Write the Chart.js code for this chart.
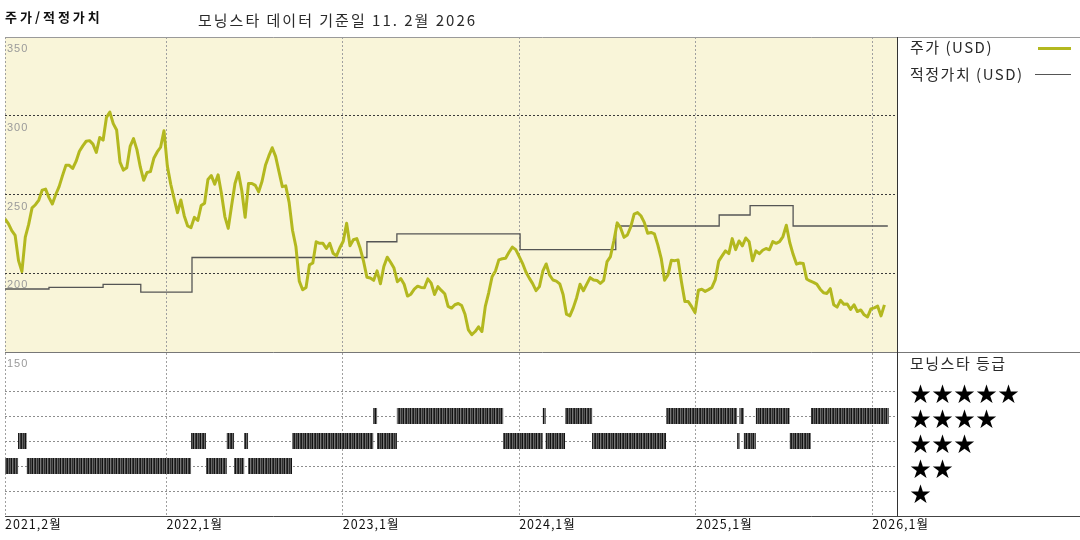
<!DOCTYPE html>
<html><head><meta charset="utf-8">
<script src="https://cdn.jsdelivr.net/npm/chart.js@4.4.1/dist/chart.umd.min.js"></script>
<style>
html,body{margin:0;padding:0;background:#fff;}
#wrap{position:relative;width:1080px;height:540px;overflow:hidden;font-family:"Noto Sans CJK KR","Noto Sans",sans-serif;}
#c{position:absolute;left:0;top:0;}
.t{position:absolute;white-space:nowrap;color:#2a2a2a;line-height:1;}
.sw{position:absolute;}
</style></head><body>
<div id="wrap">
<canvas id="c" width="1080" height="540"></canvas>
<div class="t" style="left:5px;top:10px;font-size:13px;font-weight:bold;letter-spacing:3px;color:#111;">주가/적정가치</div>
<div class="t" style="left:198px;top:12px;font-size:15px;letter-spacing:2px;">모닝스타 데이터 기준일 11. 2월 2026</div>
<div class="t" style="left:910px;top:39px;font-size:15px;letter-spacing:1.5px;">주가 (USD)</div>
<div class="sw" style="left:1038px;top:47px;width:33px;height:3px;background:#b3b81f;"></div>
<div class="t" style="left:910px;top:66px;font-size:15px;letter-spacing:1.5px;">적정가치 (USD)</div>
<div class="sw" style="left:1035px;top:74px;width:36px;height:1px;background:#555;"></div>
<div class="t" style="left:910px;top:355px;font-size:15px;letter-spacing:1.5px;">모닝스타 등급</div>
<div class="t" style="left:910px;top:382px;font-size:21px;letter-spacing:1px;color:#000;">★★★★★</div>
<div class="t" style="left:910px;top:407px;font-size:21px;letter-spacing:1px;color:#000;">★★★★</div>
<div class="t" style="left:910px;top:432px;font-size:21px;letter-spacing:1px;color:#000;">★★★</div>
<div class="t" style="left:910px;top:457px;font-size:21px;letter-spacing:1px;color:#000;">★★</div>
<div class="t" style="left:910px;top:482px;font-size:21px;letter-spacing:1px;color:#000;">★</div>
</div>
<script>
// ---- data ----
const startDate = '2021-02-01';
const axisEndDay = 1846;
const tickDates = ['2021-02-01','2022-01-01','2023-01-01','2024-01-01','2025-01-01','2026-01-01'];
const tickLabels = ['2021,2월','2022,1월','2023,1월','2024,1월','2025,1월','2026,1월'];
const priceTicks = [150,200,250,300,350];
const ratingLevels = [1,2,3,4,5];

// weekly closing price (USD) starting at startDate
const priceWeekly = [
234.5,231.5,227,224,208,201,223,231,241.5,243.5,
246.5,252.8,253.4,248,244,250,255,262,268.5,268.5,
266.5,271,277.5,280.9,283.8,284.2,282,276.7,286.2,284.5,
299,302.3,295,291,270.5,265.5,267,280.5,285.5,278.5,
267.5,259,264,264.5,273,277,280,290.5,268,256.5,
247.3,238.5,246.5,236.4,230,229,235.5,233.5,243,244.5,
259.5,262,256.5,262.5,250.5,236,228.5,243,257,264,
252.5,235.5,257,257,255.8,251.7,258.4,268.5,274.5,279.7,
274.2,264.5,255,255.5,245,227.3,217,195,189.5,191,
205.3,206.5,220,219,219,215.7,219,212.7,211,216.2,
220.3,231.7,217.5,221.3,222,215.8,207.7,197.5,197,195.5,
201.5,193.3,204.3,210.2,207,203.3,194.6,196.6,193,185.5,
186.7,189.9,191.8,191,190.8,196.4,193.7,186.5,191.5,189.1,
187,179,177.9,180,180.8,179.5,174,164,161,163,
166,163,179,187.6,197.8,201.4,208.5,209.2,209.5,213.3,
216.6,215,210.7,206.3,200.8,196.9,193.4,189,191.5,201.3,
205.9,198.9,195.7,195,193.3,186.5,174,172.9,178,184.5,
193,188.9,193.1,197.2,195.7,195.4,193.5,195.5,207.4,210.6,
220.5,232,228.8,222.8,224.3,229.4,237.5,238.5,236.5,232.3,
225.4,225.9,225,218,209.5,195.6,199,208.2,208,208.4,
194.5,182,182,178.8,175,189.2,189.8,188.5,189.6,191,
196,207.7,211,214.2,212.5,222,215,220.5,217.4,222.4,
220,208,214.2,212.4,214.6,215.7,214.9,220.1,219,220.1,
223.3,230.5,219.5,212,205.8,206.5,206.2,196.4,195.1,194.2,
193.1,189.9,187.6,187.2,190.2,180,178.5,182.8,180.3,180.5,
177,180,175.7,176.7,173.6,172.2,177.4,178,179.1,172.9,179.9
];

// fair value: value valid from each date
const fairValueDates = ['2021-02-01','2021-05-03','2021-08-23','2021-11-09','2022-02-23','2023-02-20','2023-04-23','2024-01-03','2024-07-19','2025-02-18','2025-04-23','2025-07-21'];
const fairValues     = [190,191,193,188,210,220,225,215,230,237,243,230];
const fairValueEnd = '2026-02-02';

// Morningstar rating: stars valid from each date
const ratingDates = ['2021-02-01','2021-02-28','2021-03-18','2022-02-21','2022-03-24','2022-05-06','2022-05-21','2022-06-11','2022-06-19','2022-09-18','2023-03-05','2023-03-13','2023-04-23','2023-11-29','2024-02-19','2024-02-25','2024-04-05','2024-05-31','2024-10-31','2025-03-27','2025-04-01','2025-04-10','2025-05-05','2025-07-14','2025-08-27'];
const ratingStars = [2,3,2,3,2,3,2,3,2,3,4,3,4,3,4,3,4,3,4,3,4,3,4,3,4];
const ratingEnd = '2026-02-04';

// ---- helpers ----
function dayOf(s){
  const p = s.split('-').map(Number), q = startDate.split('-').map(Number);
  return (Date.UTC(p[0],p[1]-1,p[2]) - Date.UTC(q[0],q[1]-1,q[2]))/86400000;
}
const tickDays = tickDates.map(dayOf);

const priceData = priceWeekly.map((v,i)=>({x:i*7, y:v}));
const fairData = fairValueDates.map((d,i)=>({x:dayOf(d), y:fairValues[i]}));
fairData.push({x:dayOf(fairValueEnd), y:fairValues[fairValues.length-1]});

// stripe pattern for the rating bars
const pc = document.createElement('canvas'); pc.width = 7; pc.height = 2;
const pctx = pc.getContext('2d');
['#1a1a1a','#6a6a6a','#2e2e2e','#555','#111','#777','#3a3a3a'].forEach((c,i)=>{pctx.fillStyle=c;pctx.fillRect(i,0,1,2);});
const stripe = pctx.createPattern(pc,'repeat');

const ratingSets = [];
[1,2,3,4,5].forEach(level=>{
  const data = [];
  ratingDates.forEach((d,k)=>{
    if (ratingStars[k] !== level) return;
    const s = dayOf(d);
    const e = k+1 < ratingDates.length ? dayOf(ratingDates[k+1]) : dayOf(ratingEnd);
    data.push({x:s,y:level},{x:e,y:level},{x:e,y:null});
  });
  if (data.length) ratingSets.push({
    type:'line', data, yAxisID:'yr', borderColor:stripe, borderWidth:16,
    borderCapStyle:'butt', pointRadius:0, spanGaps:false, tension:0, order:3
  });
});

const panels = {
  id:'panels',
  beforeDraw(chart){
    const {ctx, chartArea:a, scales} = chart;
    ctx.save();
    ctx.fillStyle = '#f9f5d9';
    ctx.fillRect(a.left, scales.y.top, a.right-a.left, scales.y.bottom-scales.y.top);
    ctx.restore();
    ctx.letterSpacing = '1px';
  },
  afterDraw(chart){
    const {ctx, chartArea:a, scales} = chart;
    const W = chart.width;
    ctx.save();
    ctx.lineWidth = 1;
    const hl=(yy,x0,x1,c)=>{ctx.strokeStyle=c;ctx.beginPath();ctx.moveTo(x0,Math.floor(yy)+0.5);ctx.lineTo(x1,Math.floor(yy)+0.5);ctx.stroke();};
    const vl=(xx,y0,y1,c)=>{ctx.strokeStyle=c;ctx.beginPath();ctx.moveTo(Math.floor(xx)+0.5,y0);ctx.lineTo(Math.floor(xx)+0.5,y1);ctx.stroke();};
    hl(a.top, a.left, W, '#9a9a9a');
    hl(scales.y.bottom, a.left, W, '#777');
    hl(a.bottom, a.left, W, '#444');
    vl(a.right, a.top, a.bottom, '#333');
    ctx.restore();
  }
};

new Chart(document.getElementById('c'), {
  type:'line',
  data:{ datasets:[
    {data:priceData, yAxisID:'y', borderColor:'#b3b81f', borderWidth:3, pointRadius:0, tension:0, borderJoinStyle:'round', order:1},
    {data:fairData, yAxisID:'y', borderColor:'#555', borderWidth:1.3, pointRadius:0, stepped:'before', order:2},
    ...ratingSets
  ]},
  options:{
    responsive:false, animation:false, devicePixelRatio:1,
    layout:{padding:{left:5, right:183, top:37, bottom:0}},
    plugins:{legend:{display:false}, tooltip:{enabled:false}},
    scales:{
      x:{type:'linear', min:0, max:axisEndDay, position:'bottom',
         afterBuildTicks:s=>{s.ticks = tickDays.map(v=>({value:v}));},
         afterFit:s=>{s.height = 24;},
         ticks:{autoSkip:false, maxRotation:0, minRotation:0, align:'start', padding:1, color:'#111',
                font:{family:'"Noto Sans CJK KR"', size:12.5},
                callback:(v)=>{const i=tickDays.indexOf(v); return i>=0?tickLabels[i]:'';}},
         grid:{color:'#a0a0a0', lineWidth:1, drawTicks:false},
         border:{display:false, dash:[2,2]}
      },
      y:{type:'linear', position:'left', stack:'v', stackWeight:315, weight:2, min:150, max:350,
         afterBuildTicks:s=>{s.ticks = priceTicks.map(v=>({value:v}));},
         afterFit:s=>{s.width = 0;},
         ticks:{mirror:true, labelOffset:12, padding:2, color:'#9a9a9a', font:{family:'"Liberation Sans"', size:11}},
         grid:{drawTicks:false, lineWidth:1, color:c=>([200,250,300].includes(c.tick && c.tick.value)?'#3a3a3a':'rgba(0,0,0,0)')},
         border:{display:false, dash:[2,2]}
      },
      yr:{type:'linear', position:'left', stack:'v', stackWeight:164, weight:1, min:0, max:6.56,
         afterBuildTicks:s=>{s.ticks = ratingLevels.map(v=>({value:v}));},
         afterFit:s=>{s.width = 0;},
         ticks:{display:false},
         grid:{drawTicks:false, lineWidth:1, color:'#8e8e8e'},
         border:{display:false, dash:[2,2]}
      }
    }
  },
  plugins:[panels]
});
</script>
</body></html>
